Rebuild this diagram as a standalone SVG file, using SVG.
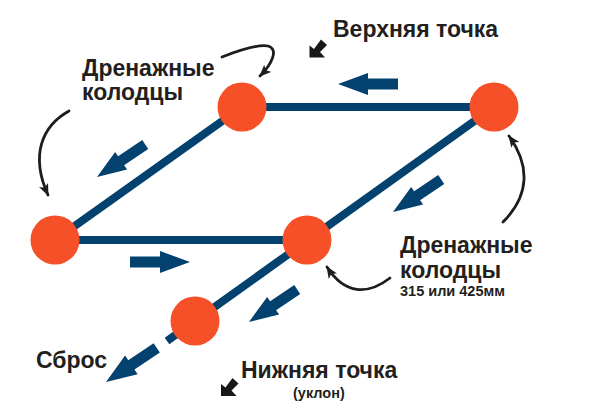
<svg xmlns="http://www.w3.org/2000/svg" width="600" height="413" viewBox="0 0 600 413">
<style>
text{font-family:"Liberation Sans",Arial,sans-serif;font-weight:700;fill:#231f20}
.big{font-size:23px}
.small{font-size:14.5px}
.pipe{fill:none;stroke:#03426f;stroke-width:8}
.well{fill:#f55027}
.flow{fill:#03426f}
.call{fill:none;stroke:#1f1c1c;stroke-width:2.8;stroke-linecap:round;marker-end:url(#head)}
.mark{fill:#1a1717}
</style>
<defs>
<marker id="head" viewBox="0 0 12 10" refX="11" refY="5" markerWidth="12" markerHeight="10" markerUnits="userSpaceOnUse" orient="auto"><path d="M0,0 L12,5 L0,10 L3,5Z" fill="#1f1c1c"/></marker>
<path id="flow" d="M0,0 L-30,-11 L-30,-5.5 L-60,-5.5 L-60,5.5 L-30,5.5 L-30,11Z"/>
<path id="mark" d="M0,0 L0,-12 L4.5,-8.5 L11.5,-18 L17.5,-12.5 L10.5,-5.5 L15.5,0Z"/>
</defs>
<rect width="600" height="413" fill="#fff"/>
<g id="connectors">
<path class="pipe" d="M55,240 L242,107 L494,107 L195,321"/>
<path class="pipe" d="M55,240 L307,240"/>
<path class="pipe" d="M195,321 L167,341"/>
<g class="flow">
<use href="#flow" transform="translate(338,84) rotate(180)"/>
<use href="#flow" transform="translate(97,177) rotate(146) scale(.97)"/>
<use href="#flow" transform="translate(393,212) rotate(146) scale(.97)"/>
<use href="#flow" transform="translate(190,262)"/>
<use href="#flow" transform="translate(249,322) rotate(146) scale(.97)"/>
<use href="#flow" transform="translate(106,382) rotate(146) scale(1.02)"/>
</g>
<path class="call" d="M222,57 C240,50 258,44 268,46 C279,49 272,64 260,76"/>
<path class="call" d="M69,111 C42,126 30,155 48,195"/>
<path class="call" d="M503,222 C530,195 530,165 509,136"/>
<path class="call" d="M390,278 C368,295 345,295 327,267"/>
</g>
<g id="well-top-left"><circle class="well" cx="242" cy="107" r="24.5"/></g>
<g id="well-top-right"><circle class="well" cx="494" cy="107" r="24.5"/></g>
<g id="well-left"><circle class="well" cx="55" cy="240" r="24.5"/></g>
<g id="well-center"><circle class="well" cx="307" cy="240" r="24.5"/></g>
<g id="well-bottom"><circle class="well" cx="195" cy="321" r="24.5"/></g>
<g id="label-top-left"><text class="big" x="82" y="76">Дренажные</text><text class="big" x="82" y="100">колодцы</text></g>
<g id="label-high"><use class="mark" href="#mark" transform="translate(309.5,57.5)"/><text class="big" x="333" y="37">Верхняя точка</text></g>
<g id="label-right"><text class="big" x="400" y="253">Дренажные</text><text class="big" x="400" y="278">колодцы</text><text class="small" x="400" y="296">315 или 425мм</text></g>
<g id="label-drain"><text class="big" x="36" y="368">Сброс</text></g>
<g id="label-low"><use class="mark" href="#mark" transform="translate(221,396)"/><text class="big" x="241" y="378">Нижняя точка</text><text class="small" x="293" y="398">(уклон)</text></g>
</svg>
